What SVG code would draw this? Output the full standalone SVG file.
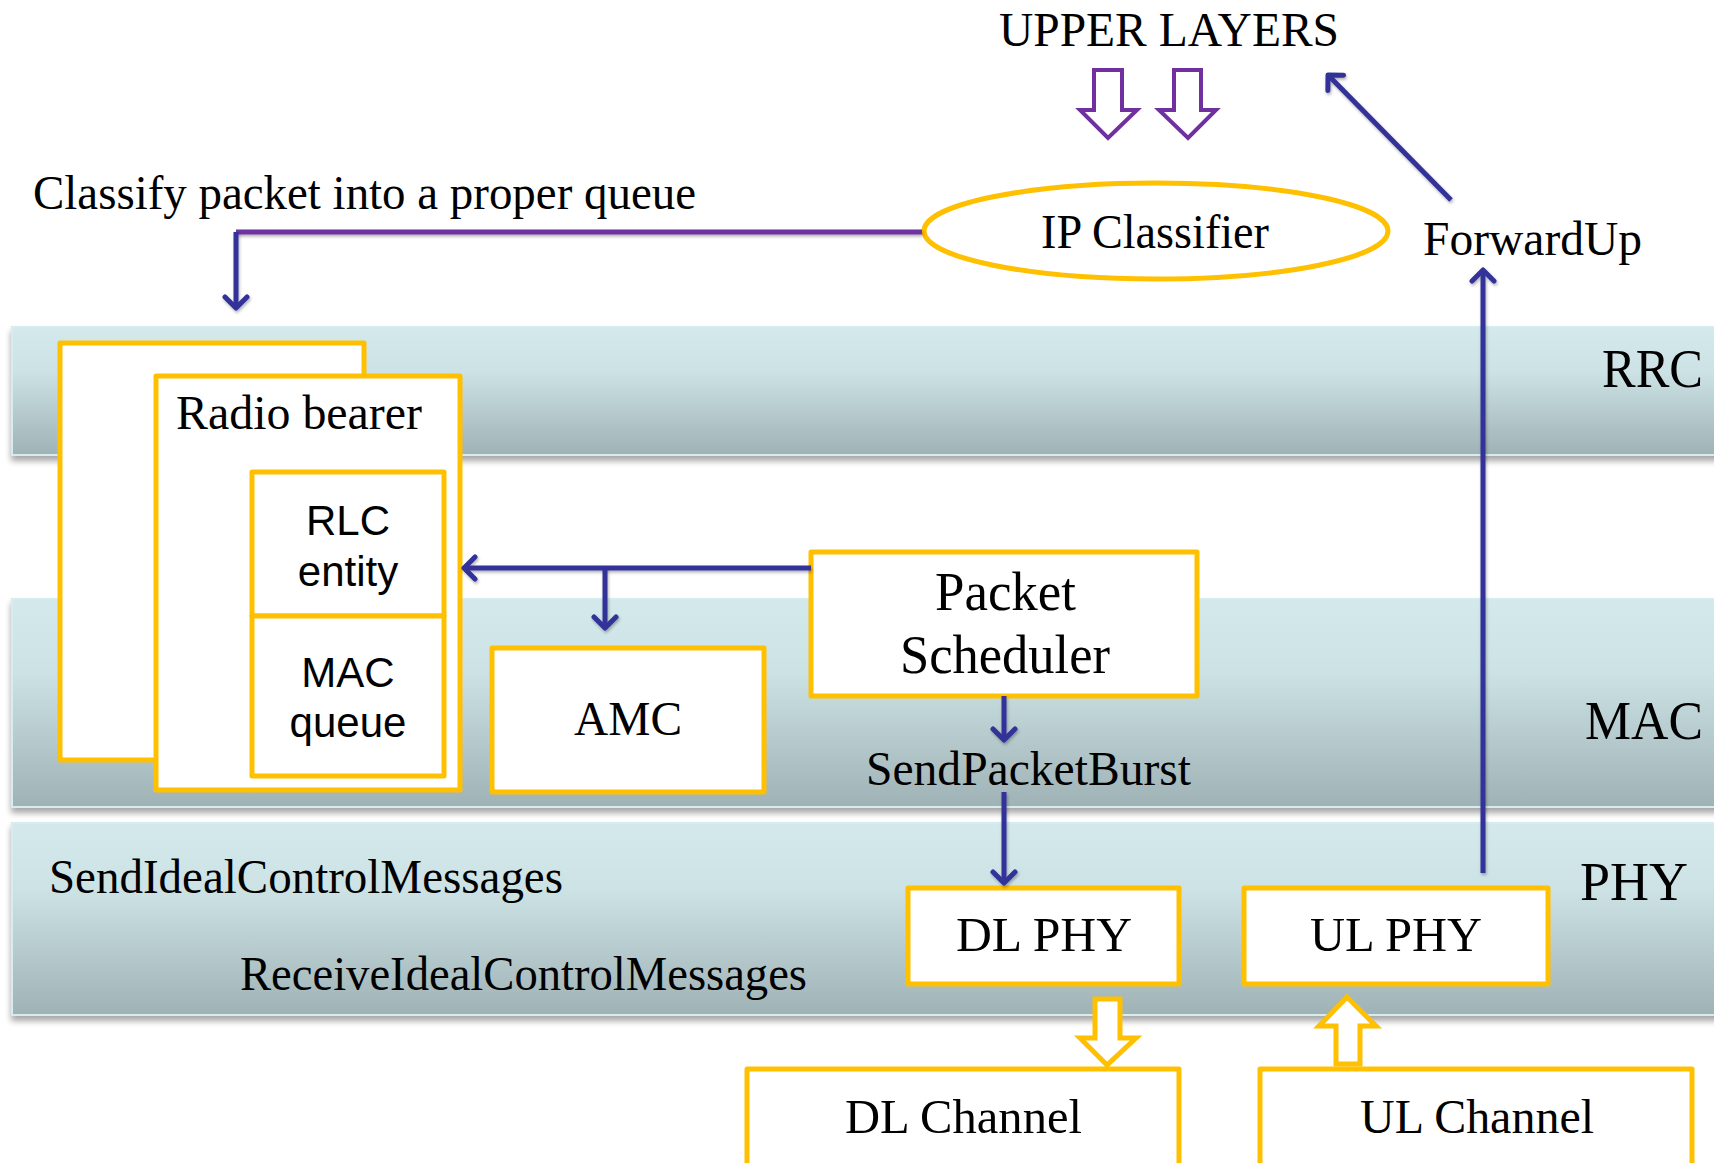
<svg xmlns="http://www.w3.org/2000/svg" width="1714" height="1163" viewBox="0 0 1714 1163">
  <defs>
    <linearGradient id="bandFill" x1="0" y1="0" x2="0" y2="1">
      <stop offset="0" stop-color="#D3E9EC"/>
      <stop offset="0.35" stop-color="#CCE2E5"/>
      <stop offset="1" stop-color="#9FB2B5"/>
    </linearGradient>
    <filter id="bandShadow" x="-5%" y="-20%" width="110%" height="150%">
      <feDropShadow dx="0" dy="5" stdDeviation="3" flood-color="#000" flood-opacity="0.35"/>
    </filter>
    <!-- user-space region so straight (zero-width) lines still render -->
    <filter id="lineShadow" filterUnits="userSpaceOnUse" x="0" y="0" width="1714" height="1163">
      <feDropShadow dx="1" dy="2" stdDeviation="1.5" flood-color="#000" flood-opacity="0.3"/>
    </filter>
    <marker id="openArrow" viewBox="-14 -14 18 28" refX="0" refY="0" markerWidth="18" markerHeight="28" markerUnits="userSpaceOnUse" orient="auto">
      <path d="M-11,-11 L0,0 L-11,11" fill="none" stroke="#333399" stroke-width="5" stroke-linecap="round" stroke-linejoin="round"/>
    </marker>
  </defs>
  <style>
    .band { fill: url(#bandFill); stroke: #D6ECEF; stroke-width: 2; filter: url(#bandShadow); }
    .box { fill: #FFFFFF; stroke: #FFC000; stroke-width: 5; stroke-linejoin: round; }
    .serif { font-family: "Liberation Serif", "Times New Roman", serif; fill: #000; }
    .sans { font-family: "Liberation Sans", Arial, sans-serif; fill: #000; font-size: 42px; text-anchor: middle; }
    .s48 { font-size: 48px; }
    .s54 { font-size: 54px; }
    .conn { fill: none; stroke: #333399; stroke-width: 5; filter: url(#lineShadow); }
    .arrowed { marker-end: url(#openArrow); }
    .purple { fill: none; stroke: #7030A0; stroke-width: 5; filter: url(#lineShadow); }
    .hollowP { fill: #FFFFFF; stroke: #7030A0; stroke-width: 4; }
    .hollowY { fill: #FFFFFF; stroke: #FFC000; stroke-width: 5; }
  </style>

  <rect width="1714" height="1163" fill="#FFFFFF"/>

  <!-- protocol layer bands -->
  <g id="layers">
    <rect class="band" x="12" y="327" width="1712" height="128"/>
    <rect class="band" x="12" y="599" width="1712" height="208"/>
    <rect class="band" x="12" y="823" width="1712" height="192"/>
    <text class="serif s54" x="1602" y="387" textLength="101" lengthAdjust="spacingAndGlyphs">RRC</text>
    <text class="serif s54" x="1585" y="739" textLength="118" lengthAdjust="spacingAndGlyphs">MAC</text>
    <text class="serif s54" x="1580" y="900" textLength="108" lengthAdjust="spacingAndGlyphs">PHY</text>
  </g>

  <!-- free labels -->
  <g id="labels">
    <text class="serif s48" x="999" y="46" textLength="340" lengthAdjust="spacingAndGlyphs">UPPER LAYERS</text>
    <text class="serif s48" x="33" y="209" textLength="663" lengthAdjust="spacingAndGlyphs">Classify packet into a proper queue</text>
    <text class="serif s48" x="1423" y="255" textLength="219" lengthAdjust="spacingAndGlyphs">ForwardUp</text>
    <text class="serif s48" x="866" y="785" textLength="325" lengthAdjust="spacingAndGlyphs">SendPacketBurst</text>
    <text class="serif s48" x="49" y="893" textLength="514" lengthAdjust="spacingAndGlyphs">SendIdealControlMessages</text>
    <text class="serif s48" x="240" y="990" textLength="567" lengthAdjust="spacingAndGlyphs">ReceiveIdealControlMessages</text>
  </g>

  <!-- hollow block arrows from the upper layers -->
  <g id="upper-arrows">
    <path class="hollowP" d="M1094,70 H1122 V110 H1137 L1108,138 L1080,110 H1094 Z"/>
    <path class="hollowP" d="M1174,70 H1201 V110 H1216 L1188,138 L1159,110 H1174 Z"/>
  </g>

  <g id="ip-classifier">
    <ellipse cx="1156" cy="231" rx="232" ry="48" fill="#FFFFFF" stroke="#FFC000" stroke-width="5"/>
    <text class="serif s48" x="1041" y="248" textLength="228" lengthAdjust="spacingAndGlyphs">IP Classifier</text>
  </g>

  <g id="radio-bearers">
    <rect class="box" x="60" y="343" width="304" height="417"/>
    <rect class="box" x="156" y="376" width="304" height="414"/>
    <text class="serif s48" x="176" y="429" textLength="246" lengthAdjust="spacingAndGlyphs">Radio bearer</text>
  </g>

  <g id="rlc-entity">
    <rect class="box" x="252" y="472" width="192" height="144"/>
    <text class="sans" x="348" y="535">RLC</text>
    <text class="sans" x="348" y="586">entity</text>
  </g>

  <g id="mac-queue">
    <rect class="box" x="252" y="616" width="192" height="160"/>
    <text class="sans" x="348" y="687">MAC</text>
    <text class="sans" x="348" y="737">queue</text>
  </g>

  <g id="amc">
    <rect class="box" x="492" y="648" width="272" height="144"/>
    <text class="serif s48" x="574" y="735" textLength="108" lengthAdjust="spacingAndGlyphs">AMC</text>
  </g>

  <g id="packet-scheduler">
    <rect class="box" x="811" y="552" width="386" height="144"/>
    <text class="serif s54" x="935" y="610" textLength="141" lengthAdjust="spacingAndGlyphs">Packet</text>
    <text class="serif s54" x="900" y="673" textLength="210" lengthAdjust="spacingAndGlyphs">Scheduler</text>
  </g>

  <g id="dl-phy">
    <rect class="box" x="908" y="888" width="271" height="96"/>
    <text class="serif s48" x="956" y="951" textLength="176" lengthAdjust="spacingAndGlyphs">DL PHY</text>
  </g>

  <g id="ul-phy">
    <rect class="box" x="1244" y="888" width="304" height="96"/>
    <text class="serif s48" x="1310" y="951" textLength="172" lengthAdjust="spacingAndGlyphs">UL PHY</text>
  </g>

  <g id="dl-channel">
    <rect class="box" x="747" y="1069" width="432" height="120"/>
    <text class="serif s48" x="845" y="1133" textLength="237" lengthAdjust="spacingAndGlyphs">DL Channel</text>
  </g>

  <g id="ul-channel">
    <rect class="box" x="1260" y="1069" width="432" height="120"/>
    <text class="serif s48" x="1360" y="1133" textLength="234" lengthAdjust="spacingAndGlyphs">UL Channel</text>
  </g>

  <!-- hollow block arrows between PHY and channels -->
  <g id="channel-arrows">
    <path class="hollowY" d="M1095,999 H1120 V1038 H1136 L1107,1065 L1080,1038 H1095 Z"/>
    <path class="hollowY" d="M1336,1064 H1360 V1026 H1376 L1347,997 L1319,1026 H1336 Z"/>
  </g>

  <!-- connectors -->
  <g id="connectors">
    <path class="purple" d="M922,232 H236"/>
    <path class="conn arrowed" d="M236,232 V308"/>
    <path class="conn arrowed" d="M811,568 H464"/>
    <path class="conn arrowed" d="M605,568 V628"/>
    <path class="conn arrowed" d="M1004,696 V740"/>
    <path class="conn arrowed" d="M1004,792 V883"/>
    <path class="conn arrowed" d="M1483,873 V270"/>
    <path class="conn arrowed" d="M1451,200 L1328,75"/>
  </g>
</svg>
